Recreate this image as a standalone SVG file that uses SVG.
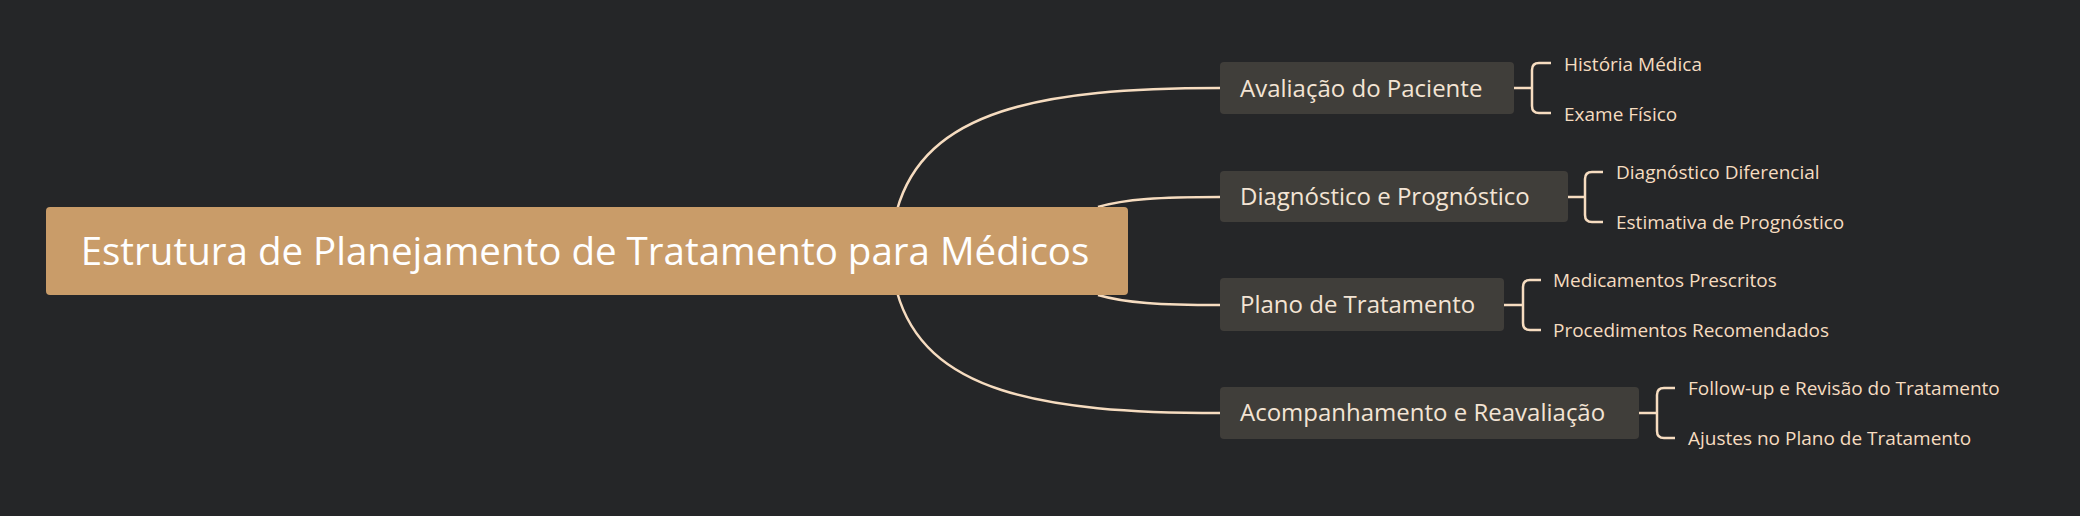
<svg xmlns="http://www.w3.org/2000/svg" width="2080" height="516" viewBox="0 0 2080 516">
<style>
.ln{fill:none;stroke:#f6dcc0;stroke-width:2.5}
.br{fill:#403e3a}
.bt{font-family:"Open Sans","Noto Sans",sans-serif;font-size:24px;fill:#f3e4d4}
.lt{font-family:"Open Sans","Noto Sans",sans-serif;font-size:19px;fill:#f6dcc0}
</style>
<rect width="2080" height="516" fill="#252628"/>
<g id="connectors">
<path class="ln" d="M897 210 C925 110 1040 88 1220 88"/>
<path class="ln" d="M1098 207 C1125 199 1160 197 1220 197"/>
<path class="ln" d="M1098 295 C1125 303 1160 305 1220 305"/>
<path class="ln" d="M897 292 C925 392 1040 413 1220 413"/>
<path class="ln" d="M1514 88 H1532 M1551 63 H1539 Q1532 63 1532 70 V106 Q1532 113 1539 113 H1551"/>
<path class="ln" d="M1568 197 H1585 M1603 172 H1592 Q1585 172 1585 179 V215 Q1585 222 1592 222 H1603"/>
<path class="ln" d="M1504 305 H1523 M1541 280 H1530 Q1523 280 1523 287 V323 Q1523 330 1530 330 H1541"/>
<path class="ln" d="M1639 413 H1657 M1675 388 H1664 Q1657 388 1657 395 V431 Q1657 438 1664 438 H1675"/>
</g>
<g id="root"><rect x="46" y="207" width="1082" height="88" rx="4" fill="#c99c69"/>
<text x="585" y="265" text-anchor="middle" font-family="'Open Sans','Noto Sans',sans-serif" font-size="38.5" fill="#ffffff">Estrutura de Planejamento de Tratamento para Médicos</text></g>
<g id="n1"><rect class="br" x="1220" y="62" width="294" height="52" rx="4"/><text class="bt" x="1240" y="97">Avaliação do Paciente</text></g>
<g id="n2"><rect class="br" x="1220" y="171" width="348" height="51" rx="4"/><text class="bt" x="1240" y="205">Diagnóstico e Prognóstico</text></g>
<g id="n3"><rect class="br" x="1220" y="278" width="284" height="53" rx="4"/><text class="bt" x="1240" y="313">Plano de Tratamento</text></g>
<g id="n4"><rect class="br" x="1220" y="387" width="419" height="52" rx="4"/><text class="bt" x="1240" y="421">Acompanhamento e Reavaliação</text></g>
<g id="l1"><text class="lt" x="1564" y="71">História Médica</text></g>
<g id="l2"><text class="lt" x="1564" y="121">Exame Físico</text></g>
<g id="l3"><text class="lt" x="1616" y="179">Diagnóstico Diferencial</text></g>
<g id="l4"><text class="lt" x="1616" y="229">Estimativa de Prognóstico</text></g>
<g id="l5"><text class="lt" x="1553" y="287">Medicamentos Prescritos</text></g>
<g id="l6"><text class="lt" x="1553" y="337">Procedimentos Recomendados</text></g>
<g id="l7"><text class="lt" x="1688" y="395">Follow-up e Revisão do Tratamento</text></g>
<g id="l8"><text class="lt" x="1688" y="445">Ajustes no Plano de Tratamento</text></g>
</svg>
